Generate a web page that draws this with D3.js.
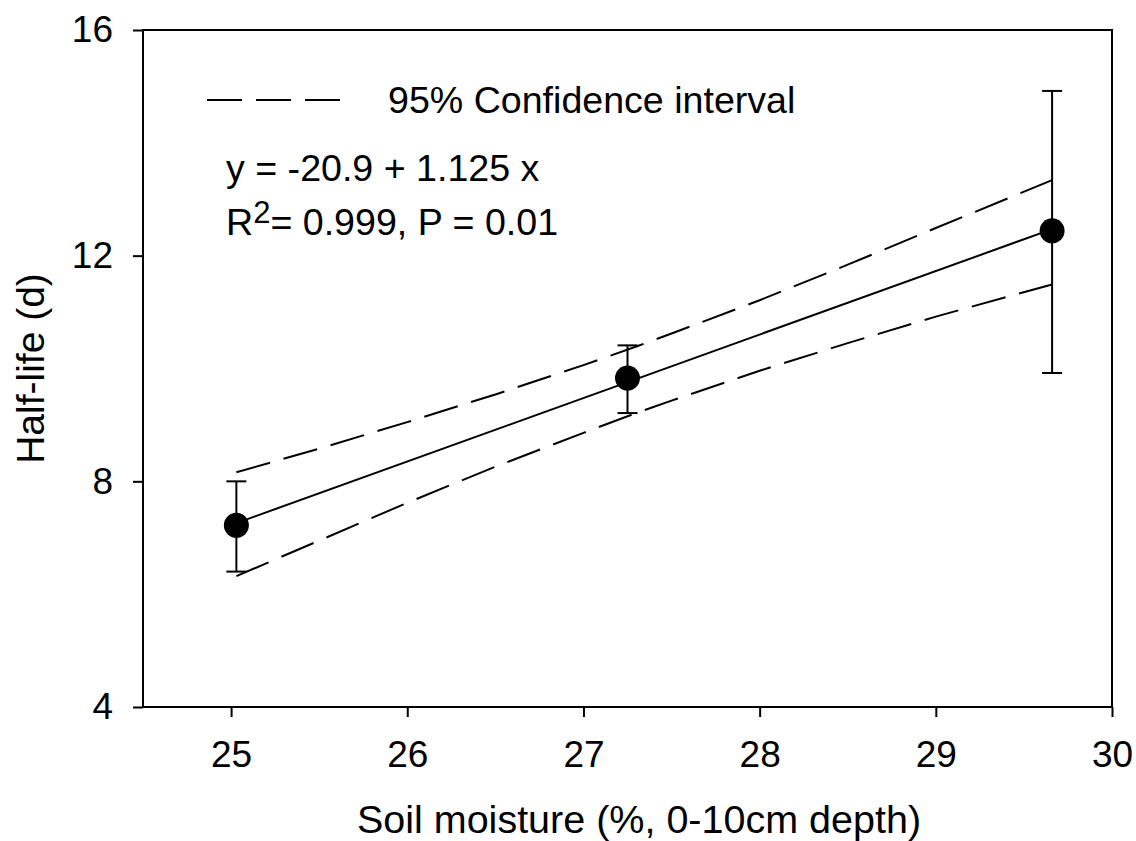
<!DOCTYPE html>
<html>
<head>
<meta charset="utf-8">
<script src="https://cdn.jsdelivr.net/npm/d3@7"></script>
<style>
body { margin: 0; background: #fff; }
text { font-family: "Liberation Sans", Arial, sans-serif; fill: #000; }
</style>
</head>
<body>
<svg id="chart" width="1136" height="841"></svg>
<script>
// measured points (soil moisture vs half-life) with error bars
var moisture = [25.03, 27.25, 29.66];
var halfLife = [7.22, 9.83, 12.44];
var errLow = [6.40, 9.21, 9.92];
var errHigh = [8.00, 10.41, 14.92];

// regression line end points
var fitX = [25.03, 29.66];
var fitY = [7.26, 12.47];

// 95% confidence band
var ciX = [25.03, 25.5, 26, 26.5, 27, 27.3, 27.5, 28, 28.5, 29, 29.66];
var ciUpper = [8.16, 8.58, 9.05, 9.54, 10.06, 10.39, 10.62, 11.21, 11.84, 12.49, 13.34];
var ciLower = [6.32, 6.95, 7.62, 8.26, 8.86, 9.21, 9.43, 9.96, 10.45, 10.92, 11.49];

var xTicks = [25, 26, 27, 28, 29, 30];
var yTicks = [4, 8, 12, 16];

var svgWidth = 1136;
var svgHeight = 841;
var margin = { top: 30, right: 24, bottom: 134, left: 143 };
var width = svgWidth - margin.left - margin.right;
var height = svgHeight - margin.top - margin.bottom;

var svg = d3.select("#chart");
var chartGroup = svg.append("g")
    .attr("transform", `translate(${margin.left}, ${margin.top})`);

var x = d3.scaleLinear().domain([24.5, 30]).range([0, width]);
var y = d3.scaleLinear().domain([4, 16]).range([height, 0]);

// axes
var bottomAxis = d3.axisBottom(x).tickValues(xTicks).tickSize(10).tickPadding(24).tickFormat(d3.format("d"));
var leftAxis = d3.axisLeft(y).tickValues(yTicks).tickSize(10).tickPadding(20).tickFormat(d3.format("d"));

var gx = chartGroup.append("g")
    .attr("transform", `translate(0, ${height})`)
    .call(bottomAxis);
var gy = chartGroup.append("g").call(leftAxis);

[gx, gy].forEach(function(g) {
    g.select(".domain").remove();
    g.selectAll(".tick line").attr("stroke", "#000").attr("stroke-width", 2);
    g.selectAll(".tick text")
        .style("font-size", "37px")
        .style("font-family", "'Liberation Sans', Arial, sans-serif")
        .attr("fill", "#000");
});

// frame
chartGroup.append("rect")
    .attr("x", 0).attr("y", 0)
    .attr("width", width).attr("height", height)
    .attr("fill", "none")
    .attr("stroke", "#000")
    .attr("stroke-width", 2);

// confidence band lines
var band = ciX.map(function(v, i) { return { x: v, up: ciUpper[i], lo: ciLower[i] }; });
var lineUp = d3.line().x(d => x(d.x)).y(d => y(d.up));
var lineLo = d3.line().x(d => x(d.x)).y(d => y(d.lo));

[lineUp, lineLo].forEach(function(fn) {
    chartGroup.append("path")
        .datum(band)
        .attr("d", fn)
        .attr("fill", "none")
        .attr("stroke", "#000")
        .attr("stroke-width", 2)
        .attr("stroke-dasharray", "35,14");
});

// regression line
var fit = fitX.map(function(v, i) { return { x: v, y: fitY[i] }; });
chartGroup.append("path")
    .datum(fit)
    .attr("d", d3.line().x(d => x(d.x)).y(d => y(d.y)))
    .attr("fill", "none")
    .attr("stroke", "#000")
    .attr("stroke-width", 2);

// error bars
var pts = moisture.map(function(v, i) {
    return { x: v, y: halfLife[i], lo: errLow[i], hi: errHigh[i] };
});
var capW = 10;
var bars = chartGroup.selectAll(".err").data(pts).enter().append("g").attr("class", "err");
bars.append("line")
    .attr("x1", d => x(d.x)).attr("x2", d => x(d.x))
    .attr("y1", d => y(d.lo)).attr("y2", d => y(d.hi));
bars.append("line")
    .attr("x1", d => x(d.x) - capW).attr("x2", d => x(d.x) + capW)
    .attr("y1", d => y(d.hi)).attr("y2", d => y(d.hi));
bars.append("line")
    .attr("x1", d => x(d.x) - capW).attr("x2", d => x(d.x) + capW)
    .attr("y1", d => y(d.lo)).attr("y2", d => y(d.lo));
bars.selectAll("line").attr("stroke", "#000").attr("stroke-width", 2);

// points
chartGroup.selectAll("circle")
    .data(pts)
    .enter()
    .append("circle")
    .attr("cx", d => x(d.x))
    .attr("cy", d => y(d.y))
    .attr("r", 12.5)
    .attr("fill", "#000");

// legend
svg.append("line")
    .attr("x1", 207).attr("x2", 340)
    .attr("y1", 100).attr("y2", 100)
    .attr("stroke", "#000")
    .attr("stroke-width", 2)
    .attr("stroke-dasharray", "35,14");
svg.append("text")
    .attr("x", 388).attr("y", 113)
    .style("font-size", "37.6px")
    .text("95% Confidence interval");

svg.append("text")
    .attr("x", 226).attr("y", 181)
    .style("font-size", "37.6px")
    .text("y = -20.9 + 1.125 x");

var r2 = svg.append("text")
    .attr("x", 226).attr("y", 235)
    .style("font-size", "37.6px");
r2.append("tspan").text("R");
r2.append("tspan").attr("dy", -12).style("font-size", "31px").text("2");
r2.append("tspan").attr("dy", 12).text("= 0.999, P = 0.01");

// axis titles
svg.append("text")
    .attr("x", 639).attr("y", 833)
    .attr("text-anchor", "middle")
    .style("font-size", "39.5px")
    .text("Soil moisture (%, 0-10cm depth)");

svg.append("text")
    .attr("transform", "rotate(-90)")
    .attr("x", -(margin.top + height / 2))
    .attr("y", 44)
    .attr("text-anchor", "middle")
    .style("font-size", "39px")
    .text("Half-life (d)");
</script>
</body>
</html>
